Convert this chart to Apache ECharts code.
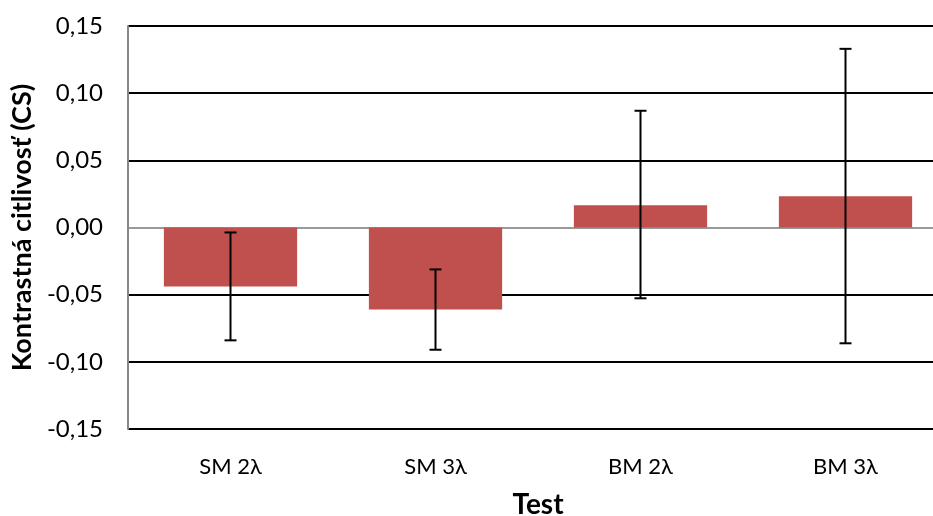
<!DOCTYPE html>
<html>
<head>
<meta charset="utf-8">
<script src="https://cdn.jsdelivr.net/npm/echarts@6/dist/echarts.min.js"></script>
<style>
html,body{margin:0;padding:0;background:#fff;overflow:hidden;}
#chart{width:933px;height:516px;}
</style>
</head>
<body>
<div id="chart"></div>
<script>
const categories = ['SM 2λ', 'SM 3λ', 'BM 2λ', 'BM 3λ'];
const means = [-0.044, -0.061, 0.0166, 0.0233];
const errLow = [-0.084, -0.091, -0.0527, -0.0862];
const errHigh = [-0.0037, -0.0312, 0.0869, 0.133];
const yTicks = [-0.15, -0.10, -0.05, 0.00, 0.05, 0.10, 0.15];

const FONT = 'Lato';
const chart = echarts.init(document.getElementById('chart'), null, {renderer: 'canvas'});

const errData = categories.map((c, i) => [i, errLow[i], errHigh[i]]);

chart.setOption({
  animation: false,
  backgroundColor: '#fff',
  grid: {left: 128, top: 26, width: 820, height: 403, containLabel: false, outerBoundsMode: 'none'},
  xAxis: {
    type: 'category',
    data: categories,
    name: 'Test',
    nameLocation: 'middle',
    nameGap: 62,
    nameTextStyle: {fontFamily: FONT, fontSize: 28, fontWeight: 'bold', color: '#000'},
    axisLine: {show: false},
    axisTick: {show: false},
    axisLabel: {fontFamily: FONT, fontSize: 22, color: '#000', margin: 27}
  },
  yAxis: {
    type: 'value',
    min: -0.15,
    max: 0.15,
    interval: 0.05,
    name: 'Kontrastná citlivosť (CS)',
    nameLocation: 'middle',
    nameGap: 92,
    nameRotate: 90,
    nameTextStyle: {fontFamily: FONT, fontSize: 27, fontWeight: 'bold', color: '#000'},
    axisLine: {show: true, lineStyle: {color: '#888', width: 2}},
    axisTick: {show: false},
    axisLabel: {
      fontFamily: FONT, fontSize: 24, color: '#000', margin: 25,
      formatter: v => v.toFixed(2).replace('.', ',')
    },
    splitLine: {show: true, lineStyle: {color: ['#000', '#000', '#000', '#999', '#000', '#000', '#000'], width: 2}}
  },
  series: [
    {
      type: 'bar',
      data: means,
      barWidth: '65%',
      itemStyle: {color: '#C0504D'},
      z: 2
    },
    {
      type: 'custom',
      data: errData,
      z: 5,
      renderItem: function (params, api) {
        const x = api.value(0);
        const lo = api.coord([x, api.value(1)]);
        const hi = api.coord([x, api.value(2)]);
        const hw = 6;
        const style = {stroke: '#000', lineWidth: 2};
        return {
          type: 'group',
          children: [
            {type: 'line', shape: {x1: lo[0], y1: lo[1], x2: hi[0], y2: hi[1]}, style: style},
            {type: 'line', shape: {x1: lo[0] - hw, y1: lo[1], x2: lo[0] + hw, y2: lo[1]}, style: style},
            {type: 'line', shape: {x1: hi[0] - hw, y1: hi[1], x2: hi[0] + hw, y2: hi[1]}, style: style}
          ]
        };
      }
    }
  ]
});
</script>
</body>
</html>
